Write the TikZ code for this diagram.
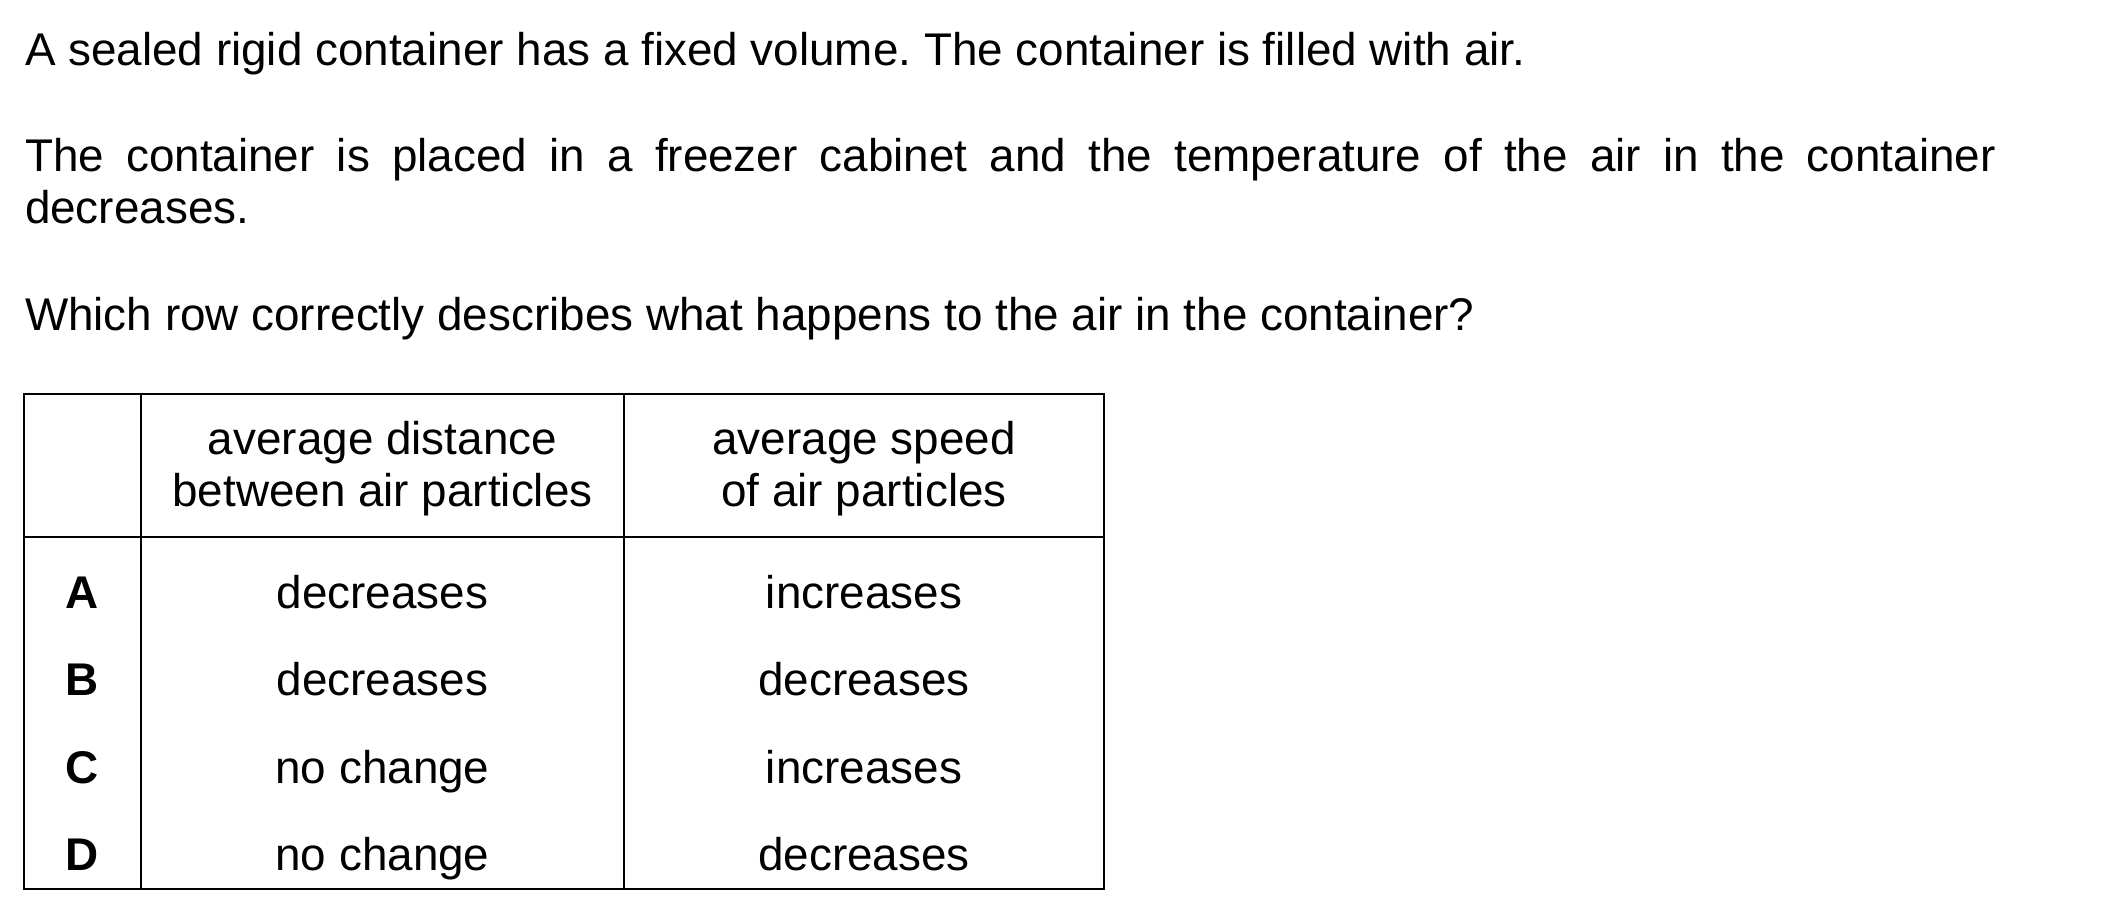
\documentclass[tikz,border=0pt]{standalone}
\usepackage{fontspec}
\setmainfont{Liberation Sans}
\frenchspacing
\begin{document}
\begin{tikzpicture}[x=0.24pt,y=-0.24pt,
  basefont/.style={font=\fontsize{11pt}{12.65pt}\selectfont\frenchspacing},
  txt/.style={basefont,anchor=base west,inner sep=0pt,outer sep=0pt},
  cell/.style={basefont,anchor=base,inner sep=0pt,outer sep=0pt},
  lbl/.style={cell,font=\fontsize{11pt}{12.65pt}\selectfont\bfseries},
  grid/.style={line width=0.65pt,line cap=rect}]
\useasboundingbox (0,0) rectangle (2101,918);
% question text
\node[txt] (l1) at (25,66) {A sealed rigid container has a fixed volume. The container is filled with air.};
\node[txt] (l2) at (25,172) {\makebox[473pt][s]{The container is placed in a freezer cabinet and the temperature of the air in the container}};
\node[txt] (l3) at (25,224) {decreases.};
\node[txt] (l4) at (25,331) {Which row correctly describes what happens to the air in the container?};
% table grid
\draw[grid] (24,394) rectangle (1104,889);
\draw[grid] (24,537) -- (1104,537);
\draw[grid] (141,394) -- (141,889);
\draw[grid] (624,394) -- (624,889);
% header
\node[cell] (h1a) at (382.5,455) {average distance};
\node[cell] (h1b) at (382.5,507) {between air particles};
\node[cell] (h2a) at (864,455) {average speed};
\node[cell] (h2b) at (864,507) {of air particles};
% rows
\node[lbl] (ra) at (82,609) {A};
\node[lbl] (rb) at (82,696) {B};
\node[lbl] (rc) at (82,784) {C};
\node[lbl] (rd) at (82,871) {D};
\node[cell] (a1) at (382.5,609) {decreases};
\node[cell] (a2) at (864,609) {increases};
\node[cell] (b1) at (382.5,696) {decreases};
\node[cell] (b2) at (864,696) {decreases};
\node[cell] (c1) at (382.5,784) {no change};
\node[cell] (c2) at (864,784) {increases};
\node[cell] (d1) at (382.5,871) {no change};
\node[cell] (d2) at (864,871) {decreases};
\end{tikzpicture}
\end{document}
